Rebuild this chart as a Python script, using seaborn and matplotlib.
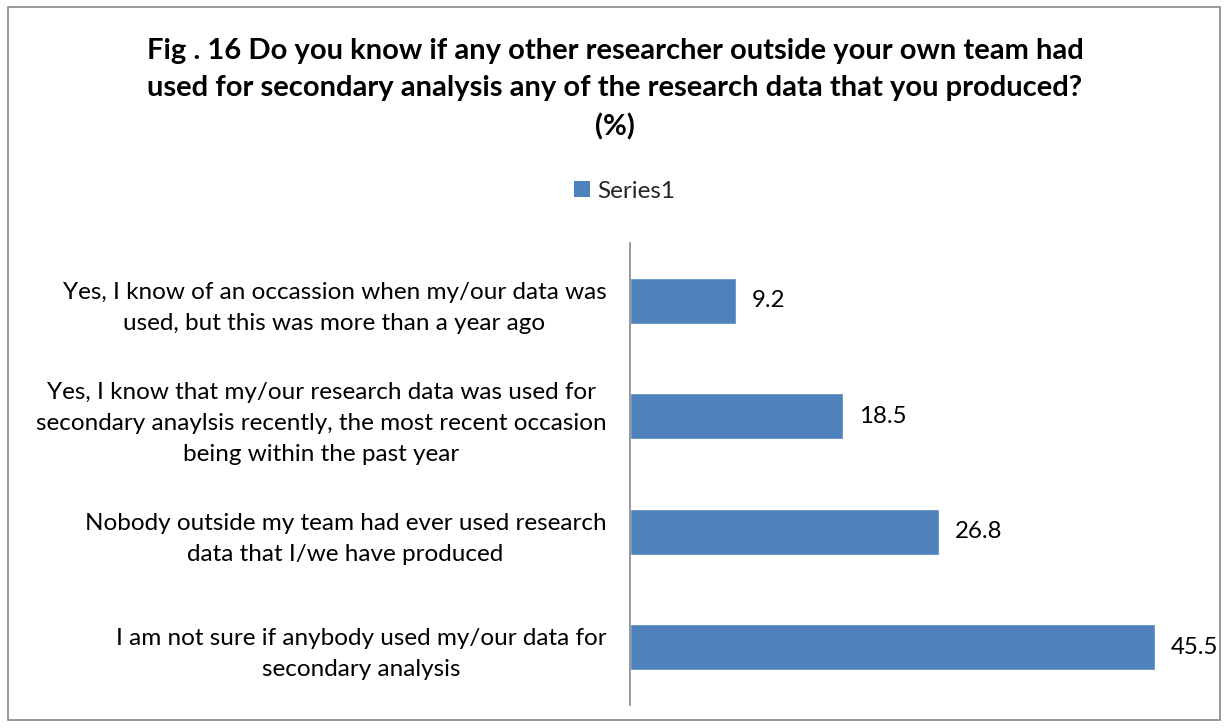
import matplotlib
matplotlib.use("Agg")
import matplotlib.pyplot as plt
import seaborn as sns
import pandas as pd
from matplotlib.patches import Rectangle

categories = [
    "Yes, I know of an occassion when my/our data was\nused, but this was more than a year ago",
    "Yes, I know that my/our research data was used for\nsecondary anaylsis recently, the most recent occasion\nbeing within the past year",
    "Nobody outside my team had ever used research\ndata that I/we have produced",
    "I am not sure if anybody used my/our data for\nsecondary analysis",
]
values = [9.2, 18.5, 26.8, 45.5]
series_name = "Series1"
title = "Fig . 16 Do you know if any other researcher outside your own team had\nused for secondary analysis any of the research data that you produced?\n(%)"

sns.set_theme(style="white")
plt.rcParams['font.family'] = ['Lato', 'DejaVu Sans']

df = pd.DataFrame({"category": categories, "value": values, "series": series_name})

W, H = 1227, 728
fig = plt.figure(figsize=(W/100, H/100), dpi=100)
fig.patch.set_facecolor("white")
fig.patches.append(Rectangle((8/W, 1-720/H), (1220-8)/W, (720-7)/H, transform=fig.transFigure,
                             fill=False, edgecolor="#888888", linewidth=1.2))

ax = fig.add_axes([630/W, 1-705/H, (1195-630)/W, (705-243)/H])
color = "#4F81BD"
sns.barplot(data=df, y="category", x="value", hue="series", palette=[color], orient="h",
            width=0.4, ax=ax, legend=False, saturation=1)

px_per_unit = (1155-630)/45.5
ax.set_xlim(0, (1195-630)/px_per_unit)
ax.set_ylim(3.5, -0.5)
for i, v in enumerate(values):
    ax.text(v + 16/px_per_unit, i, f"{v}", va="center", ha="left", fontsize=17.3, color="#000000")

ax.set_xlabel("")
ax.set_ylabel("")
ax.set_xticks([])
ax.tick_params(axis="y", length=0, pad=17, labelsize=17.5, labelcolor="#000000")
for lab in ax.get_yticklabels():
    lab.set_multialignment("center")
    lab.set_linespacing(1.6)
for s in ["top", "right", "bottom"]:
    ax.spines[s].set_visible(False)
ax.spines["left"].set_color("#868686")
ax.spines["left"].set_linewidth(1.2)

fig.text(615/W, 1-89/H, title, ha="center", va="center", fontsize=21, fontweight="bold",
         linespacing=1.55, color="#000000")

# legend
handle = Rectangle((0, 0), 1, 1, facecolor=color, edgecolor="none")
fig.legend([handle], [series_name], loc="center", bbox_to_anchor=(625/W, 1-191/H), frameon=False,
           fontsize=17.5, handlelength=0.65, handleheight=0.65, handletextpad=0.3)

fig.savefig("out.png", dpi=100, facecolor="white")
